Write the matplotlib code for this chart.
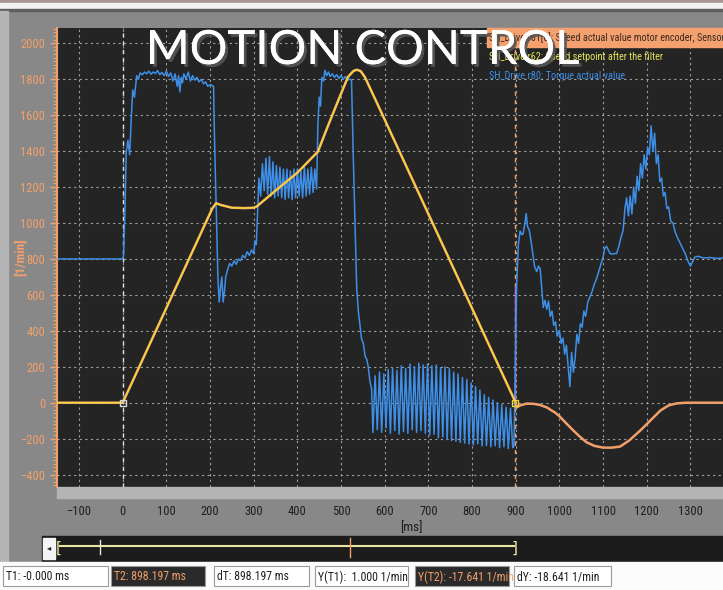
import matplotlib
matplotlib.use("Agg")
import matplotlib.pyplot as plt
import matplotlib.patheffects as pe
from matplotlib import font_manager as fm
from matplotlib.patches import Rectangle
from matplotlib.ticker import MultipleLocator

# torque actual value (blue), in [ms] / [1/min]
torque_t = [-150, 0, 2, 5, 8, 12, 16, 20, 23, 27, 32, 36, 40, 45, 50, 55, 60, 65, 70,
            75, 80, 85, 90, 95, 100, 105, 110, 115, 120, 125, 128, 131, 134, 137, 140,
            145, 150, 155, 160, 165, 170, 175, 180, 185, 190, 195, 200, 205, 208,
            210, 214, 218, 221, 224, 227, 230, 233, 236, 240, 245, 250, 255, 260, 265,
            270, 275, 280, 285, 290, 295, 300, 303, 306,
            308, 312, 316, 320, 324, 328, 332, 336, 340, 344, 348, 352, 356, 360, 364,
            368, 372, 376, 380, 384, 388, 392, 396, 400, 404, 408, 412, 416, 420, 424,
            428, 432, 436, 440, 444,
            447, 450, 453, 456, 460, 463, 467, 471, 475, 480, 485, 490, 495, 500, 505,
            510, 515, 520, 524,
            528, 532, 536, 540, 544, 547, 551, 555, 559, 562, 566, 570, 573]
torque_v = [800, 800, 820, 1050, 1390, 1460, 1380, 1600, 1740, 1700, 1820, 1800, 1835,
            1825, 1840, 1830, 1845, 1828, 1840, 1832, 1848, 1825, 1838, 1820, 1845, 1815,
            1835, 1790, 1830, 1760, 1820, 1730, 1810, 1780, 1830, 1800, 1840, 1790, 1820,
            1795, 1810, 1785, 1800, 1775, 1785, 1760, 1770, 1765, 1760,
            1500, 1100, 700, 560, 640, 700, 560, 620, 700, 740, 775, 760, 790, 770, 800,
            790, 820, 805, 840, 820, 850, 830, 900, 880,
            1000, 1250, 1150, 1330, 1180, 1360, 1160, 1370, 1150, 1340, 1140, 1320, 1150,
            1310, 1140, 1300, 1130, 1300, 1140, 1290, 1130, 1300, 1140, 1300, 1150, 1290,
            1140, 1310, 1150, 1300, 1160, 1310, 1170, 1300, 1190,
            1550, 1700, 1650, 1810, 1790, 1850, 1820, 1840, 1815, 1830, 1810, 1825, 1805,
            1820, 1800, 1815, 1795, 1800, 1796,
            1370, 1000, 630, 500, 420, 355, 330, 260, 240, 205, 120, 78, -166]

# oscillating band 575..895 ms: upper and lower spikes
band_top_t = [578, 588, 598, 608, 618, 628, 638, 648, 658, 668, 678, 688, 698, 708, 718, 728,
              738, 748, 758, 768, 778, 788, 798, 808, 818, 828, 838, 848, 858, 868, 878, 888]
band_top_v = [150, 170, 160, 185, 195, 180, 205, 190, 215, 200, 220, 210, 215, 205, 210, 195,
              200, 190, 170, 160, 140, 130, 110, 90, 70, 45, 30, 15, 0, -10, -25, -30]
band_bot_t = [583, 593, 603, 613, 623, 633, 643, 653, 663, 673, 683, 693, 703, 713, 723, 733,
              743, 753, 763, 773, 783, 793, 803, 813, 823, 833, 843, 853, 863, 873, 883, 893]
band_bot_v = [-150, -165, -140, -170, -155, -175, -160, -170, -150, -165, -155, -170, -180,
              -175, -195, -190, -205, -210, -215, -220, -225, -230, -235, -228, -240, -238,
              -245, -240, -250, -245, -255, -250]

torque_t2 = [896, 898, 900, 902, 906, 910, 914, 917, 921, 924, 927, 931, 935, 939, 943, 948,
             952, 956, 960, 963, 967, 971, 975, 979, 983, 987, 991, 995, 1000, 1004, 1008,
             1012, 1016, 1020, 1024, 1028, 1032, 1036, 1040, 1044, 1048, 1052, 1056, 1060,
             1065, 1070, 1075, 1080, 1085, 1090, 1095, 1100, 1104, 1108, 1112, 1116, 1120,
             1125, 1131, 1136, 1141, 1146, 1150, 1154, 1158, 1162, 1166, 1170, 1174, 1178,
             1182, 1186, 1190, 1194, 1198, 1202, 1206, 1210, 1214, 1218, 1222, 1226, 1230,
             1234, 1238, 1242, 1246, 1250, 1255, 1260, 1265, 1270, 1276, 1282, 1288, 1294,
             1300, 1304, 1310, 1318, 1330, 1345, 1360, 1375]
torque_v2 = [-240, 60, 330, 640, 880, 955, 935, 940, 1000, 1053, 980, 960, 900, 830, 760, 730,
             760, 745, 620, 530, 570, 520, 565, 480, 510, 430, 450, 370, 400, 330, 360,
             270, 320, 200, 90, 280, 170, 250, 380, 330, 440, 420, 510, 480,
             560, 590, 620, 660, 690, 730, 770, 810, 860, 870, 850, 830, 826,
             830, 830, 870, 920, 960, 1080, 1140, 1040, 1150, 1050, 1200, 1110, 1260,
             1180, 1330, 1250, 1380, 1300, 1420, 1380, 1540, 1400, 1500, 1330, 1380, 1230,
             1250, 1150, 1170, 1080, 1090, 1010, 1000, 950, 920, 890, 860, 830, 790,
             760, 780, 810, 815, 805, 808, 803, 805]

# speed setpoint after the filter (yellow)
setp_t = [-150, 0, 205, 214, 225, 250, 280, 300, 307, 350, 400, 447, 470, 500, 516, 528,
          536, 545, 555, 600, 700, 800, 900]
setp_v = [0, 0, 1080, 1110, 1100, 1085, 1083, 1085, 1092, 1180, 1280, 1397, 1540, 1720,
          1813, 1845, 1853, 1845, 1810, 1575, 1050, 525, 0]

# speed actual value motor encoder (orange), after the setpoint ends
act_t = [900, 902, 910, 925, 940, 955, 971, 990, 1000, 1017, 1030, 1045, 1062, 1080, 1100,
         1120, 1139, 1160, 1185, 1210, 1231, 1250, 1268, 1290, 1375]
act_v = [0, -26, -15, -5, -6, -12, -26, -55, -75, -118, -150, -185, -220, -240, -250,
         -250, -244, -210, -155, -95, -44, -15, -4, 0, 0]

cursor_t = [0.0, 898.197]
x_ticks = list(range(-100, 1400, 100))
y_ticks = list(range(-400, 2001, 200))

legend_lines = ["SH_Drive.r61[0]: Speed actual value motor encoder, Sensor",
                "SH_Drive.r62: Speed setpoint after the filter",
                "SH_Drive.r80: Torque actual value"]
status_texts = ["T1: -0.000 ms", "T2: 898.197 ms", "dT: 898.197 ms",
                "Y(T1):  1.000 1/min", "Y(T2): -17.641 1/min", "dY: -18.641 1/min"]

BLUE = "#3d8fe8"
YELLOW = "#f4d53c"
ORANGE = "#f2a06a"


def narrow_font():
    # the trace software uses a condensed face; take the narrowest one installed
    for fam in ["Liberation Sans Narrow", "Arial Narrow", "Roboto Condensed",
                "Open Sans Condensed", "Noto Sans Condensed"]:
        try:
            fm.findfont(fm.FontProperties(family=fam), fallback_to_default=False)
            return {"family": fam}
        except ValueError:
            pass
    path = fm.findfont(fm.FontProperties(family="DejaVu Sans", stretch="condensed"))
    if "Condensed" in path:
        return {"family": "DejaVu Sans", "stretch": "condensed"}
    return {"family": "Liberation Sans"}


NARROW = narrow_font()
NARROW_SCALE = 1.0 if NARROW["family"] != "Liberation Sans" else 0.9

W, H = 723, 590
fig = plt.figure(figsize=(W / 100, H / 100), dpi=100, facecolor="#888888")


def fbox(x0, y0, x1, y1, **kw):
    # rectangle in screenshot pixel coordinates
    fig.patches.append(Rectangle((x0 / W, 1 - y1 / H), (x1 - x0) / W, (y1 - y0) / H,
                                 transform=fig.transFigure, **kw))


def ftext(x, y, s, **kw):
    return fig.text(x / W, 1 - y / H, s, **kw)


# window chrome
fbox(0, 0, W, 3, color="#a8948e", zorder=0)
fbox(0, 3, W, 9, color="#f2f2f2", zorder=0)
fbox(0, 9, W, 11, color="#5e5e5e", zorder=0)
fbox(0, 11, 8, 562, color="#b4b4b4", zorder=0)
fbox(57, 487, W, 498, color="#b4b4b4", zorder=0)

ax = fig.add_axes([57 / W, 1 - 487 / H, (W - 57) / W, (487 - 28) / H])
ax.set_facecolor("#242424")
ax.set_xlim(-150.4, 1374.6)
ax.set_ylim(-469, 2085)

ax.xaxis.set_major_locator(MultipleLocator(100))
ax.xaxis.set_minor_locator(MultipleLocator(10))
ax.yaxis.set_major_locator(MultipleLocator(200))
ax.yaxis.set_minor_locator(MultipleLocator(20))
ax.grid(True, which="major", color="#a0a0a0", linestyle=(0, (2, 3)), linewidth=0.8)
for s in ["top", "right", "bottom"]:
    ax.spines[s].set_visible(False)
ax.spines["left"].set_color(ORANGE)
ax.spines["left"].set_linewidth(1.5)
ax.tick_params(axis="y", which="both", colors=ORANGE, labelsize=9 * NARROW_SCALE,
               direction="out")
ax.tick_params(axis="y", which="major", length=5, width=1)
ax.tick_params(axis="y", which="minor", length=3, width=0.8)
ax.tick_params(axis="x", which="both", colors="#3a3a3a", labelcolor="#1e1e1e",
               labelsize=9 * NARROW_SCALE, direction="out")
ax.tick_params(axis="x", which="major", length=8, width=0.8, pad=5)
ax.tick_params(axis="x", which="minor", length=5, width=0.6)
ax.set_xticks(x_ticks)
ax.set_yticks(y_ticks)
for lab in ax.get_xticklabels() + ax.get_yticklabels():
    lab.set_family(NARROW["family"])
    lab.set_stretch(NARROW.get("stretch", "normal"))

# cursors
ax.axvline(cursor_t[0], color="#e0e0e0", linestyle=(0, (3, 3)), linewidth=1, zorder=2)
ax.axvline(cursor_t[1], color=ORANGE, linestyle=(0, (3, 3)), linewidth=1, zorder=2)
ax.plot([cursor_t[1], cursor_t[1]], [0, 650], color="#b070e0", linewidth=1, zorder=3)

# traces
band_t, band_v = [], []
for a, b, c, d in zip(band_top_t, band_top_v, band_bot_t, band_bot_v):
    band_t += [a, c]
    band_v += [b, d]
all_t = torque_t + band_t + torque_t2
all_v = torque_v + band_v + torque_v2
ax.plot(all_t, all_v, color=BLUE, linewidth=1.1, zorder=4)
ax.plot(setp_t + act_t, setp_v + act_v, color=ORANGE, linewidth=1.8, zorder=5)
ax.plot(setp_t, setp_v, color=YELLOW, linewidth=1.1, zorder=6)
ax.plot(cursor_t[0], 0, marker="s", markersize=5, markerfacecolor="none",
        markeredgecolor="#d8d8d8", zorder=7)
ax.plot(cursor_t[1], 0, marker="s", markersize=5, markerfacecolor="none",
        markeredgecolor=YELLOW, zorder=7)

ax.set_ylabel("[1/min]", color=ORANGE, fontsize=9.5 * NARROW_SCALE, fontweight="bold",
              labelpad=4, **NARROW)
ax.yaxis.set_label_coords(-0.045, 0.5)

# legend block
fbox(487, 28, W, 47, color="#f5a16f", zorder=8)
leg_kw = dict(fontsize=7.3 * NARROW_SCALE, va="center", zorder=9, **NARROW)
ftext(489, 38, legend_lines[0], color="#3a2a20", clip_on=True, **leg_kw)
ftext(489, 57, legend_lines[1], color="#e6e65a", **leg_kw)
ftext(489, 76, legend_lines[2], color=BLUE, **leg_kw)

# overlay title
ftext(363, 51, "MOTION CONTROL", color="white", fontsize=34, family="Lato",
      ha="center", va="center", zorder=10,
      path_effects=[pe.withSimplePatchShadow(offset=(2, -2), shadow_rgbFace="#555555",
                                             alpha=0.9), pe.Normal()])

# x unit
ftext(411, 528, "[ms]", color="#1e1e1e", fontsize=9.5 * NARROW_SCALE, ha="center",
      va="center", **NARROW)

# scroll bar
fbox(42, 536, W, 561, color="#1c1c1c", zorder=1)
fbox(43, 538, 55, 559, color="#f4f4f4", zorder=2)
ftext(49, 548, "\u25c2", color="#222222", fontsize=6, ha="center", va="center", zorder=3)
fig.lines.append(plt.Line2D([60 / W, 514 / W], [1 - 546 / H, 1 - 546 / H],
                            transform=fig.transFigure, color="#ece3a0", linewidth=1.5))
ftext(59, 548, "[", color="#ece3a0", fontsize=11, ha="center", va="center", zorder=3)
ftext(515, 548, "]", color="#ece3a0", fontsize=11, ha="center", va="center", zorder=3)
fig.lines.append(plt.Line2D([100 / W, 100 / W], [1 - 540 / H, 1 - 554 / H],
                            transform=fig.transFigure, color="#e8e8e8", linewidth=1))
fig.lines.append(plt.Line2D([350 / W, 350 / W], [1 - 538 / H, 1 - 557 / H],
                            transform=fig.transFigure, color=ORANGE, linewidth=1))

# status bar
fbox(0, 562, W, H, color="#fbfbfb", zorder=1)
boxes = [(3, 108), (111, 205), (214, 309), (315, 408), (415, 509), (514, 611)]
for i, ((x0, x1), txt) in enumerate(zip(boxes, status_texts)):
    dark = i in (1, 4)
    fbox(x0, 566, x1, 586, facecolor="#2a2a2a" if dark else "#ffffff",
         edgecolor="#9a9a9a", linewidth=0.8, zorder=2)
    ftext(x0 + 3, 577, txt, color=ORANGE if dark else "#1e1e1e",
          fontsize=8.5 * NARROW_SCALE, va="center", zorder=3, **NARROW)

fig.savefig("out.png", dpi=100, facecolor=fig.get_facecolor())
